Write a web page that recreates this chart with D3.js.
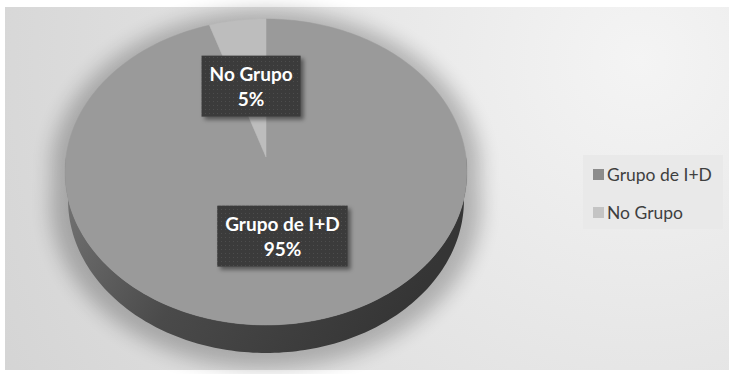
<!DOCTYPE html>
<html><head><meta charset="utf-8">
<script src="https://cdn.jsdelivr.net/npm/d3@7/dist/d3.min.js"></script>
<style>html,body{margin:0;padding:0;background:#fff;}svg{display:block;}</style>
</head><body>
<svg id="chart" width="729" height="374"></svg>
<script>
const categories = ["Grupo de I+D", "No Grupo"];
const values = [95, 5];
const percentLabels = ["95%", "5%"];
const topColors = ["#9a9a9a", "#bdbdbd"];
const legendColors = ["#8c8c8c", "#c4c4c4"];

const svg = d3.select("#chart");
const defs = svg.append("defs");

const bg = defs.append("radialGradient").attr("id","bg").attr("gradientUnits","userSpaceOnUse")
  .attr("cx",640).attr("cy",60).attr("r",720);
bg.append("stop").attr("offset","0").attr("stop-color","#f4f4f4");
bg.append("stop").attr("offset","0.55").attr("stop-color","#e2e2e2");
bg.append("stop").attr("offset","1").attr("stop-color","#d4d4d4");

const side = defs.append("linearGradient").attr("id","side").attr("x1","0").attr("y1","0").attr("x2","1").attr("y2","0.3");
side.append("stop").attr("offset","0").attr("stop-color","#787878");
side.append("stop").attr("offset","0.45").attr("stop-color","#4a4a4a");
side.append("stop").attr("offset","1").attr("stop-color","#353535");

const blur = defs.append("filter").attr("id","blur").attr("x","-30%").attr("y","-30%").attr("width","160%").attr("height","160%");
blur.append("feGaussianBlur").attr("stdDeviation","10");

const ds = defs.append("filter").attr("id","ds").attr("x","-20%").attr("y","-20%").attr("width","150%").attr("height","150%");
ds.append("feDropShadow").attr("dx","3").attr("dy","3").attr("stdDeviation","2").attr("flood-color","#000").attr("flood-opacity","0.45");

const pat = defs.append("pattern").attr("id","dots").attr("patternUnits","userSpaceOnUse").attr("width",4).attr("height",4);
pat.append("rect").attr("width",4).attr("height",4).attr("fill","#3b3b3b");
pat.append("rect").attr("x",1).attr("y",1).attr("width",1).attr("height",1).attr("fill","#4e4e4e");

svg.append("rect").attr("x",5).attr("y",7).attr("width",724).attr("height",363).attr("fill","url(#bg)");

const cx = 266, cy = 157, RX = 200, A = 151.5, P = -0.098, DEPTH = 28, BOTTOM_SHRINK = 0.985;
function proj(a, r, dz) {
  const u = Math.sin(a) * r, v = -Math.cos(a) * r;
  const s = 1 / (1 + P * v);
  return [cx + RX * u * s, cy + A * v * s + (dz || 0)];
}
function arcPts(a0, a1, r, dz) {
  const n = Math.max(4, Math.ceil(Math.abs(a1 - a0) / 0.02));
  return d3.range(n + 1).map(i => proj(a0 + (a1 - a0) * i / n, r, dz));
}
const line = d3.line();

const shTop = arcPts(Math.PI * 1.5, Math.PI * 2.5, 1.07, 0);
const shBot = arcPts(Math.PI / 2, Math.PI * 1.5, 1.07, 30);
svg.append("path").attr("d", line(shTop.concat(shBot)) + "Z").attr("fill","#000").attr("opacity",0.24).attr("filter","url(#blur)");

const pie = d3.pie().sort(null).value(d => d)(values);

const topEdge = arcPts(Math.PI / 2, 3 * Math.PI / 2, 1, 0);
const botEdge = arcPts(3 * Math.PI / 2, Math.PI / 2, 1, DEPTH)
  .map(([x, y]) => [cx + (x - cx) * BOTTOM_SHRINK, y]);
svg.append("path").attr("d", line(topEdge.concat(botEdge)) + "Z").attr("fill","url(#side)");

const g = svg.append("g");
pie.forEach((p, i) => {
  const pts = [proj(0, 0, 0)].concat(arcPts(p.startAngle, p.endAngle, 1, 0));
  g.append("path").attr("d", line(pts) + "Z").attr("fill", topColors[i])
    .attr("stroke", topColors[i]).attr("stroke-width", 0.5);
});

pie.forEach((p, i) => {
  const mid = (p.startAngle + p.endAngle) / 2;
  const [lx, ly] = proj(mid, 0.5, 0);
  const lg = svg.append("g");
  const box = lg.append("rect").attr("fill","url(#dots)").attr("filter","url(#ds)");
  const t = lg.append("text").attr("text-anchor","middle").attr("fill","#fff")
    .attr("font-family","Lato, 'Open Sans', sans-serif").attr("font-weight","bold").attr("font-size","19px");
  t.append("tspan").attr("x", lx).attr("y", ly - 5).text(categories[i]);
  t.append("tspan").attr("x", lx).attr("y", ly + 20).text(percentLabels[i]);
  const bb = t.node().getBBox();
  const w = bb.width + 16, h = 61;
  box.attr("x", lx - w / 2).attr("y", ly - 30).attr("width", w).attr("height", h);
});

const lgx = 583, lgy = 155;
svg.append("rect").attr("x", lgx).attr("y", lgy).attr("width", 140).attr("height", 74).attr("fill","#e9e9e9");
categories.forEach((c, i) => {
  const y = lgy + 14 + i * 38;
  svg.append("rect").attr("x", lgx + 10).attr("y", y).attr("width", 11).attr("height", 11).attr("fill", legendColors[i]);
  svg.append("text").attr("x", lgx + 24).attr("y", y + 11.5).attr("fill","#3f3f3f")
    .attr("font-family","Lato, 'Open Sans', sans-serif").attr("font-size","17.5px").text(c);
});
</script>
</body></html>
